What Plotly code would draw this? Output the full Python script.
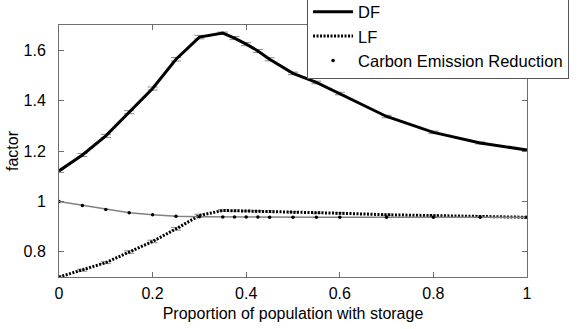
import plotly.graph_objects as go

x = [0, 0.05, 0.1, 0.15, 0.2, 0.25, 0.3, 0.35, 0.375, 0.4, 0.425, 0.45, 0.5, 0.55, 0.6, 0.7, 0.8, 0.9, 1.0]
df = [1.121, 1.184, 1.260, 1.354, 1.448, 1.564, 1.652, 1.668, 1.648, 1.624, 1.597, 1.564, 1.508, 1.472, 1.428, 1.337, 1.274, 1.232, 1.204]
df_err = [0.006, 0.006, 0.006, 0.006, 0.006, 0.007, 0.007, 0.004, 0.006, 0.006, 0.006, 0.006, 0.005, 0.005, 0.005, 0.005, 0.005, 0.004, 0.004]
lf = [0.700, 0.727, 0.757, 0.799, 0.841, 0.891, 0.944, 0.964, 0.963, 0.962, 0.961, 0.960, 0.957, 0.955, 0.953, 0.947, 0.943, 0.940, 0.937]
lf_err = [0.004, 0.004, 0.004, 0.005, 0.005, 0.005, 0.005, 0.003, 0.003, 0.003, 0.003, 0.003, 0.003, 0.003, 0.003, 0.003, 0.003, 0.003, 0.003]
cer = [1.000, 0.984, 0.968, 0.955, 0.947, 0.941, 0.939, 0.938, 0.938, 0.938, 0.938, 0.937, 0.937, 0.937, 0.937, 0.937, 0.937, 0.937, 0.937]

x_ticks = [0, 0.2, 0.4, 0.6, 0.8, 1]
x_labels = ["0", "0.2", "0.4", "0.6", "0.8", "1"]
y_ticks = [0.8, 1.0, 1.2, 1.4, 1.6]
y_labels = ["0.8", "1", "1.2", "1.4", "1.6"]

FONT = "Liberation Sans, Arial, Helvetica, sans-serif"

fig = go.Figure()
fig.add_trace(go.Scatter(
    x=x, y=df, name="DF", mode="lines",
    line=dict(color="black", width=3),
    error_y=dict(type="data", array=df_err, color="#8a8a8a", thickness=1, width=5),
))
fig.add_trace(go.Scatter(
    x=x, y=lf, name="LF", mode="lines",
    line=dict(color="black", width=3, dash="2px,1.5px"),
    error_y=dict(type="data", array=lf_err, color="#8a8a8a", thickness=1, width=5),
))
fig.add_trace(go.Scatter(
    x=x, y=cer, name="Carbon Emission Reduction line", mode="lines",
    line=dict(color="#808080", width=1.5), showlegend=False, hoverinfo="skip",
))
fig.add_trace(go.Scatter(
    x=x, y=cer, name="Carbon Emission Reduction", mode="markers",
    marker=dict(color="black", size=3.5),
))

axis_common = dict(
    showgrid=False, zeroline=False, showline=True, linecolor="#6e6e6e", linewidth=1,
    mirror="ticks", ticks="inside", ticklen=5, tickcolor="#6e6e6e",
    tickfont=dict(family=FONT, size=16, color="black"),
)

fig.update_layout(
    width=583, height=329,
    margin=dict(l=59, r=56, t=25, b=52, autoexpand=False),
    paper_bgcolor="white", plot_bgcolor="white",
    font=dict(family=FONT, size=16, color="black"),
    xaxis=dict(range=[0, 1], tickvals=x_ticks, ticktext=x_labels,
               title=dict(text="Proportion of population with storage", font=dict(size=16), standoff=6),
               ticklabelstandoff=2, **axis_common),
    yaxis=dict(range=[0.7, 1.7], tickvals=y_ticks, ticktext=y_labels,
               title=dict(text="factor", font=dict(size=16), standoff=0),
               ticklabelstandoff=9, **axis_common),
    showlegend=True,
    legend=dict(x=0.53, xanchor="left", y=0.784, yanchor="bottom",
                bgcolor="white", bordercolor="#555555", borderwidth=1,
                font=dict(family=FONT, size=16.5, color="black"),
                itemwidth=40, tracegroupgap=0),
)

fig.write_html("out.html")
